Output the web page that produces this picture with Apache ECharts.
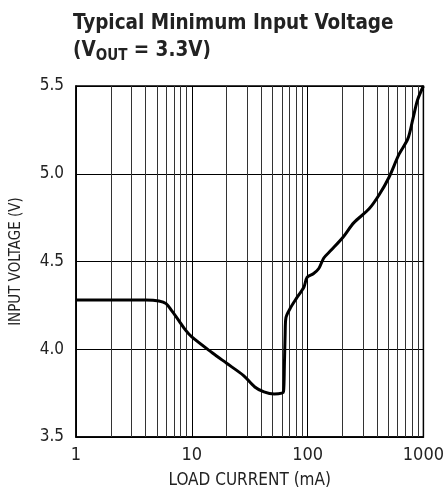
<!DOCTYPE html>
<html><head><meta charset="utf-8">
<script src="https://cdn.jsdelivr.net/npm/echarts@6/dist/echarts.min.js"></script>
<style>html,body{margin:0;padding:0;background:#fff}#c{width:447px;height:498px}</style>
</head><body><div id="c"></div>
<script>
var loadCurrent = [1, 2, 3, 4, 5.2, 6, 6.7, 7.7, 8.8, 10, 15, 20, 28, 35, 42, 51.5, 60, 62, 63, 64, 65, 71, 80, 93, 99, 112, 125, 138, 160, 203, 250, 340, 415, 505, 615, 735, 810, 890, 1000];
var inputVoltage = [4.28, 4.28, 4.28, 4.28, 4.275, 4.26, 4.22, 4.165, 4.11, 4.07, 3.98, 3.92, 3.85, 3.785, 3.757, 3.745, 3.75, 3.76, 3.9, 4.09, 4.18, 4.235, 4.29, 4.355, 4.41, 4.43, 4.46, 4.52, 4.565, 4.64, 4.72, 4.80, 4.88, 4.98, 5.11, 5.20, 5.31, 5.42, 5.5];
var xTicks = [1, 10, 100, 1000];
var yTicks = [3.5, 4.0, 4.5, 5.0, 5.5];
var minorX = [2,3,4,5,6,7,8,9,20,30,40,50,60,70,80,90,200,300,400,500,600,700,800,900];

var font = '"Liberation Sans Narrow","DejaVu Sans Condensed",sans-serif';
var pts = loadCurrent.map(function(x, i){ return [x, inputVoltage[i]]; });

var chart = echarts.init(document.getElementById('c'), null, {renderer: 'canvas'});
chart.setOption({
  animation: false,
  title: {
    left: 73, top: 10, padding: 0,
    text: '{a|Typical Minimum Input Voltage}\n{a|(V}{s|OUT}{a| = 3.3V)}',
    textStyle: {
      rich: {
        a: {fontFamily: font, fontWeight: 'bold', fontSize: 20.5, color: '#222', lineHeight: 27, verticalAlign: 'middle'},
        s: {fontFamily: font, fontWeight: 'bold', fontSize: 15, color: '#222', lineHeight: 27, verticalAlign: 'bottom'}
      }
    }
  },
  grid: {left: 76, top: 86, right: 19, bottom: 61, show: true, borderColor: '#000', borderWidth: 1.5, backgroundColor: 'transparent'},
  xAxis: {
    type: 'log', logBase: 10, min: 1, max: 1000,
    name: 'LOAD CURRENT (mA)', nameLocation: 'middle', nameGap: 35,
    nameTextStyle: {fontFamily: font, fontSize: 17, color: '#222'},
    axisLine: {show: true, lineStyle: {color: '#000', width: 1.5}},
    axisTick: {show: false},
    axisLabel: {fontFamily: font, fontSize: 18, color: '#222', margin: 9,
      formatter: function(v){ return xTicks.indexOf(Math.round(v)) >= 0 ? String(Math.round(v)) : ''; }},
    splitLine: {show: true, lineStyle: {color: '#000', width: 1}}
  },
  yAxis: {
    type: 'value', min: 3.5, max: 5.5, interval: 0.5,
    name: 'INPUT VOLTAGE (V)', nameLocation: 'middle', nameGap: 52,
    nameTextStyle: {fontFamily: font, fontSize: 15, color: '#222'},
    axisLine: {show: true, lineStyle: {color: '#000', width: 1.5}},
    axisTick: {show: false},
    axisLabel: {fontFamily: font, fontSize: 17, color: '#222', margin: 12,
      formatter: function(v){ return v.toFixed(1); }},
    splitLine: {show: true, lineStyle: {color: '#000', width: 1}}
  },
  series: [
    {
      type: 'line', data: pts, symbol: 'none', silent: true, z: 1,
      lineStyle: {opacity: 0},
      markLine: {
        silent: true, symbol: 'none', label: {show: false},
        lineStyle: {color: '#333', width: 1, type: 'solid'},
        data: minorX.map(function(v){ return {xAxis: v}; })
      }
    },
    {
      type: 'line', data: pts, symbol: 'none', z: 5,
      smooth: 0.3,
      lineStyle: {color: '#000', width: 3}
    }
  ]
});
</script></body></html>
